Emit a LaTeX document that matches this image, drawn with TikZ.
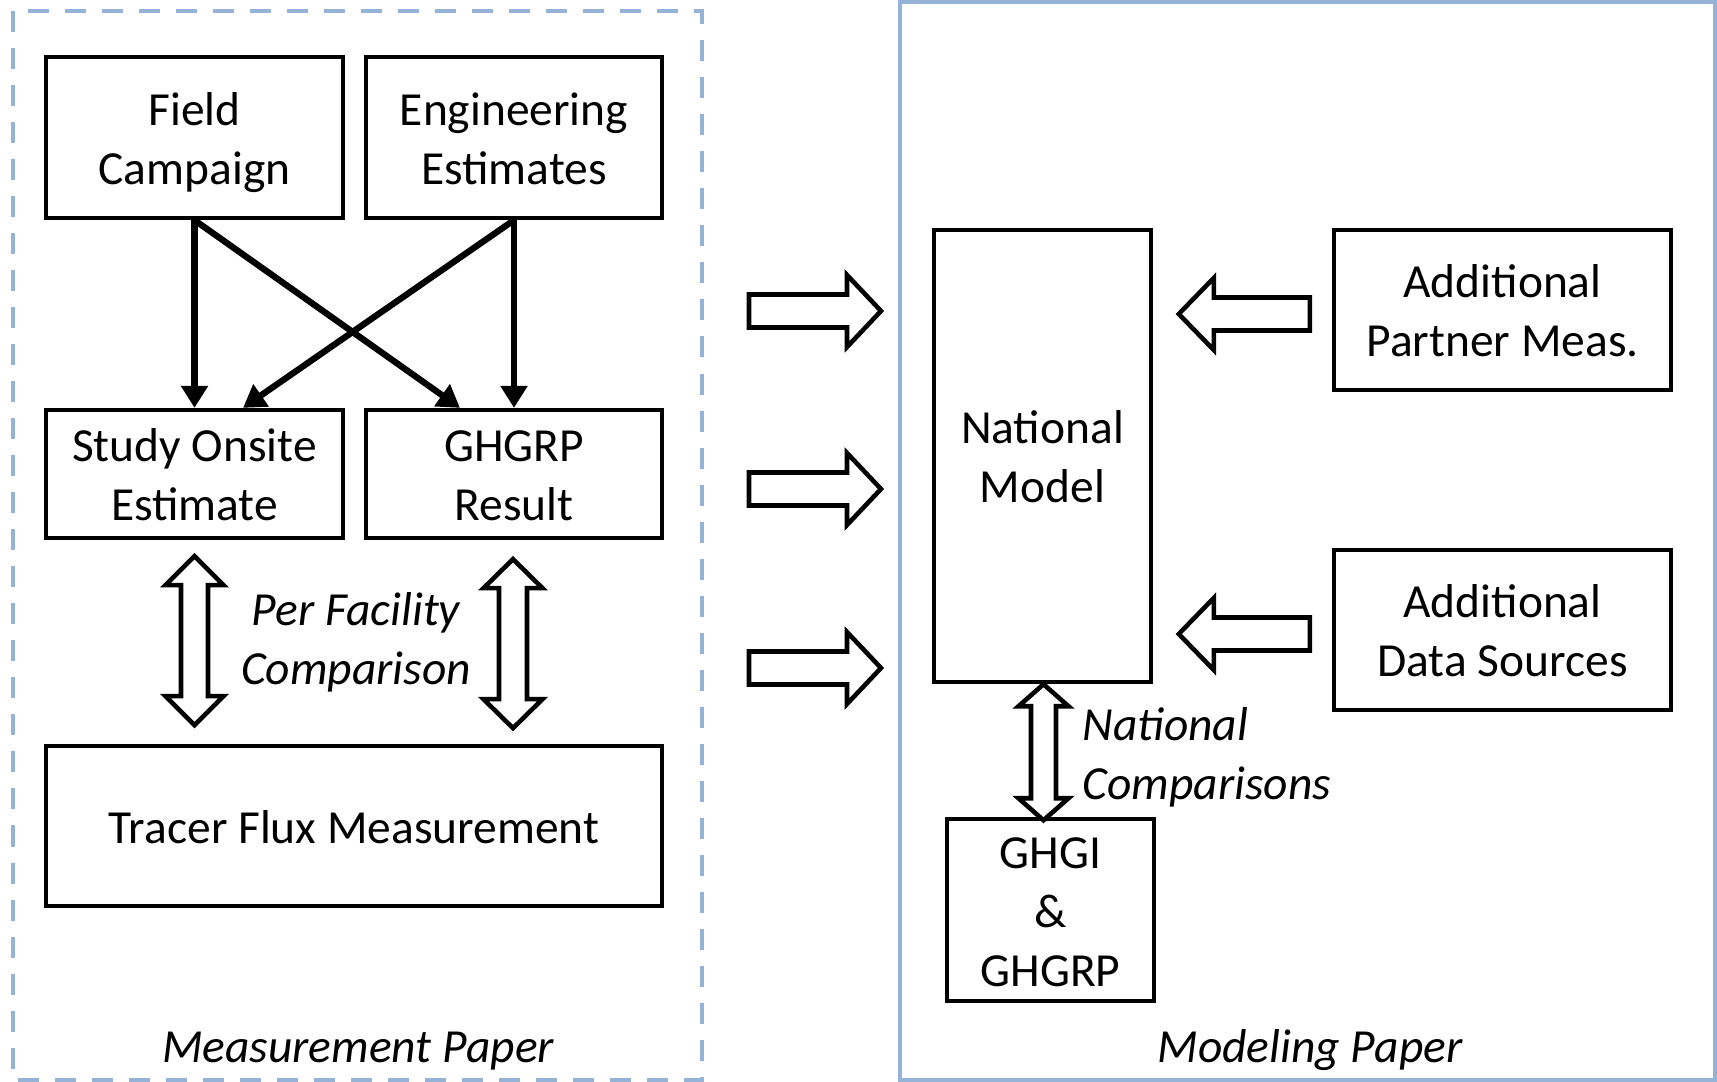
\documentclass[tikz,border=0pt]{standalone}
\usepackage{fontspec}
\setmainfont{Carlito}
\usetikzlibrary{arrows.meta}
\definecolor{frameblue}{HTML}{95B3D7}
\newcommand\vstrut{\rule[-3.5pt]{0pt}{16.8pt}}
\newcommand\vdbl[5]{\draw[hollow] #1 -- ++({#5},{#3}) -- ++({#4-#5},0) -- ++(0,{#2-2*#3}) -- ++({#5-#4},0) -- ++({-#5},{#3}) -- ++({-#5},{-#3}) -- ++({#5-#4},0) -- ++(0,{-(#2-2*#3)}) -- ++({#4-#5},0) -- cycle;}
\newcommand\hfat[5]{\draw[hollow] #1 -- ++(0,{-#4}) -- ++({#2-#3},0) -- ++(0,{#4-#5}) -- ++({#3},{#5}) -- ++({-#3},{#5}) -- ++(0,{#4-#5}) -- ++({-(#2-#3)},0) -- cycle;}
\begin{document}
\begin{tikzpicture}[x=0.01cm,y=-0.01cm,
  txt/.style={font=\fontsize{13.5}{16.8}\selectfont, align=center, inner sep=0pt},
  itxt/.style={font=\fontsize{13.5}{16.8}\selectfont\itshape, inner sep=0pt},
  box/.style={txt, draw, line width=1.2pt},
  conn/.style={line width=1.8pt, -{Triangle[length=0.22cm,width=0.26cm]}},
  hollow/.style={draw, line width=1.3pt, fill=white, line join=miter},
  frame/.style={draw=frameblue, line width=1.4pt}]
\useasboundingbox (0,0) rectangle (1717,1082);
% frames
\draw[frame, dash pattern=on 0.21cm off 0.16cm] (13,11) rectangle (702,1080);
\draw[frame] (900,2) rectangle (1715,1080);
% left panel boxes
\node[box, minimum width=2.97cm, minimum height=1.61cm] (field) at (194.5,137.5) {\vstrut Field\\Campaign\vstrut};
\node[box, minimum width=2.96cm, minimum height=1.61cm] (eng) at (514,137.5) {\vstrut Engineering\\Estimates\vstrut};
\node[box, minimum width=2.97cm, minimum height=1.28cm] (study) at (194.5,474) {\vstrut Study Onsite\\Estimate\vstrut};
\node[box, minimum width=2.96cm, minimum height=1.28cm] (ghgrp) at (514,474) {\vstrut GHGRP\\Result\vstrut};
\node[box, minimum width=6.16cm, minimum height=1.60cm] (tracer) at (354,826) {\vstrut Tracer Flux Measurement};
% right panel boxes
\node[box, minimum width=2.17cm, minimum height=4.52cm] (natl) at (1042.5,456) {\vstrut National\\Model\vstrut};
\node[box, minimum width=3.37cm, minimum height=1.60cm] (partner) at (1502.5,310) {\vstrut Additional\\Partner Meas.\vstrut};
\node[box, minimum width=3.37cm, minimum height=1.60cm] (data) at (1502.5,630) {\vstrut Additional\\Data Sources\vstrut};
\node[box, minimum width=2.07cm, minimum height=1.82cm] (ghgi) at (1050.5,910) {\vstrut GHGI\\\&\\GHGRP\vstrut};
% connectors
\draw[conn] (field.south) -- (study.north);
\draw[conn] (field.south) -- ([xshift=-0.54cm]ghgrp.north);
\draw[conn] (eng.south) -- ([xshift=0.485cm]study.north);
\draw[conn] (eng.south) -- (ghgrp.north);
% hollow double arrows
\vdbl{([yshift=-0.16cm]study.south)}{169}{29}{13.5}{29}
\vdbl{([xshift=-0.01cm,yshift=-0.19cm]ghgrp.south)}{169}{29}{14}{29.5}
\vdbl{([xshift=0.01cm]natl.south)}{136}{22}{12.5}{25}
% hollow arrows between panels
\hfat{(749,311)}{132}{34}{16.5}{36}
\hfat{(749,489)}{132}{34}{16.5}{36}
\hfat{(749,668)}{132}{34}{16.5}{36}
\hfat{([xshift=-0.22cm,yshift=-0.04cm]partner.west)}{-131}{-35}{16.5}{36}
\hfat{([xshift=-0.22cm,yshift=-0.04cm]data.west)}{-131}{-35}{16.5}{36}
% labels
\node[itxt, align=center] (pf) at (356,637.5) {\vstrut Per Facility\\Comparison\vstrut};
\node[itxt, align=left, anchor=west] (nc) at (1082,753) {\vstrut National\\Comparisons\vstrut};
\node[itxt] (mp) at (358,1045) {\vstrut Measurement Paper};
\node[itxt] (modp) at (1310,1045) {\vstrut Modeling Paper};
\end{tikzpicture}
\end{document}
